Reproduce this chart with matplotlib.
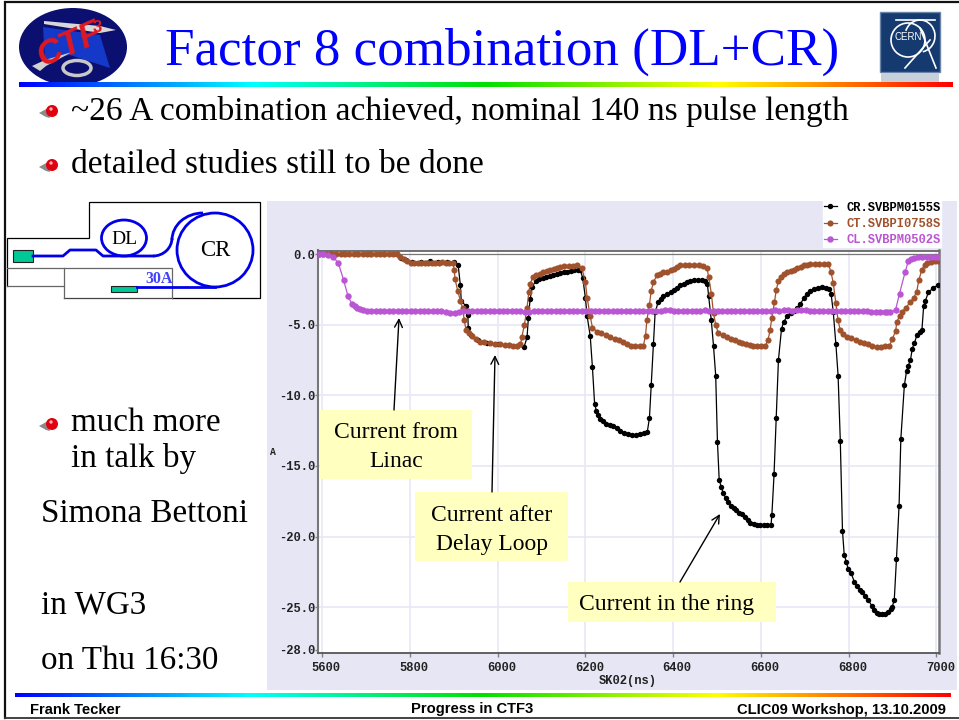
import matplotlib
matplotlib.use("Agg")
import matplotlib.pyplot as plt
import numpy as np
from matplotlib.colors import LinearSegmentedColormap
from matplotlib.patches import Arc, Circle, Ellipse, Polygon, Rectangle
from matplotlib.transforms import ScaledTranslation

W, H = 959, 720

black_x = [5592, 5620, 5650, 5680, 5710, 5740, 5770, 5780, 5790, 5805, 5825, 5845, 5865, 5885, 5900, 5910,
           5915, 5917, 5928, 5932, 5933, 5940, 5955, 5975, 6000, 6025, 6045, 6060,
           6067, 6070, 6074, 6079, 6087, 6095, 6103, 6111, 6119, 6127, 6135, 6143, 6151, 6159, 6167, 6175, 6183, 6188,
           6194, 6200, 6204, 6211, 6216, 6221, 6225, 6229, 6234, 6240, 6247, 6255, 6264, 6272, 6280, 6288, 6297,
           6306, 6315, 6324, 6333, 6341, 6346, 6350, 6355, 6359, 6366, 6372, 6378, 6386, 6394, 6402, 6409, 6416,
           6424, 6431, 6439, 6447, 6456, 6465, 6473, 6478, 6481, 6487, 6492, 6497, 6501, 6505, 6510, 6514, 6520,
           6526, 6532, 6538, 6544, 6550, 6557, 6563, 6570, 6576, 6584, 6592, 6599, 6607, 6615, 6623, 6625, 6630,
           6635, 6640, 6647, 6652, 6660, 6668, 6675, 6683, 6690, 6698, 6705, 6713, 6722, 6731, 6740, 6748, 6756,
           6760, 6765, 6771, 6776, 6781, 6786, 6790, 6795, 6799, 6806, 6813, 6819, 6825, 6830, 6838, 6845, 6853,
           6858, 6864, 6870, 6876, 6883, 6890, 6896, 6899, 6904, 6909, 6915, 6919, 6927, 6932, 6936, 6941, 6945,
           6950, 6956, 6962, 6967, 6971, 6975, 6982, 6993, 7003]
black_y = [0, 0, 0, 0, 0, 0, -0.02, -0.25, -0.45, -0.55, -0.55, -0.5, -0.55, -0.55, -0.55, -0.8,
           -2.2, -3.3, -3.7, -4.3, -5.2, -5.7, -6.1, -6.3, -6.4, -6.45, -6.5, -6.6,
           -5.9, -4.5, -3.2, -2.3, -1.9, -1.8, -1.7, -1.65, -1.55, -1.5, -1.4, -1.35, -1.3, -1.25, -1.2, -1.15, -1.1, -1.1,
           -1.7, -3.1, -4.4, -5.8, -8.0, -10.6, -11.1, -11.4, -11.7, -11.85, -12.0, -12.1, -12.2, -12.3, -12.5, -12.65, -12.75,
           -12.8, -12.8, -12.75, -12.7, -12.6, -11.6, -9.3, -6.4, -4.1, -3.4, -3.2, -2.95, -2.85, -2.7, -2.55, -2.4, -2.2,
           -2.1, -2.0, -1.9, -1.85, -1.85, -1.85, -1.9, -2.1, -3.0, -4.7, -6.5, -8.6, -13.3, -16.0, -16.5, -16.9, -17.3,
           -17.55, -17.8, -18.0, -18.15, -18.3, -18.4, -18.6, -18.8, -19.0, -19.1, -19.15, -19.2, -19.15, -19.2, -19.2, -18.5, -15.6,
           -11.6, -7.5, -5.3, -4.8, -4.4, -4.2, -4.0, -3.8, -3.55, -3.1, -2.8, -2.6, -2.5, -2.4, -2.35, -2.4, -2.5,
           -2.8, -4.1, -6.4, -8.6, -13.2, -19.6, -21.3, -21.8, -22.3, -22.6, -23.2, -23.5, -23.75, -23.9, -24.2, -24.5, -24.9,
           -25.2, -25.4, -25.45, -25.5, -25.5, -25.35, -25.15, -25.0, -24.5, -21.6, -17.8, -13.1, -9.3, -8.3, -7.9, -7.5, -6.7,
           -6.3, -5.7, -5.5, -5.4, -3.7, -3.3, -2.7, -2.4, -2.2]

brown_x = [5592, 5602, 5612, 5622, 5632, 5642, 5652, 5662, 5672, 5682, 5692, 5702, 5712, 5722, 5732, 5742, 5752, 5762,
           5770, 5778, 5786, 5794, 5802, 5810, 5818, 5826, 5834, 5842, 5850, 5858, 5866, 5874, 5882, 5890, 5898,
           5901, 5903, 5909, 5915, 5920, 5924, 5928, 5934, 5941, 5950, 5960, 5970, 5982,
           5994, 6006, 6016, 6026, 6036, 6045, 6052, 6055, 6061, 6067, 6071, 6074, 6081, 6088, 6096, 6104, 6112, 6120,
           6128, 6136, 6143, 6152, 6162, 6172, 6181, 6192, 6200, 6204, 6211, 6216, 6227, 6236, 6246, 6257, 6267, 6276,
           6285, 6295, 6303, 6314, 6324, 6332, 6337, 6340, 6346, 6350, 6355, 6363, 6370, 6378, 6386, 6394, 6402, 6409,
           6416, 6426, 6436, 6448, 6458, 6468, 6477, 6481, 6487, 6492, 6497, 6503, 6513, 6523, 6532, 6541, 6549, 6558,
           6567, 6575, 6583, 6592, 6601, 6610, 6616, 6621, 6625, 6631, 6635, 6640, 6646, 6652, 6660, 6668, 6676, 6683,
           6691, 6699, 6706, 6713, 6723, 6733, 6743, 6754, 6760, 6765, 6771, 6776, 6781, 6788, 6796, 6806, 6816, 6827,
           6836, 6845, 6854, 6864, 6874, 6884, 6893, 6900, 6907, 6910, 6916, 6922, 6930, 6941, 6948, 6955, 6960, 6967,
           6973, 6979, 6988, 6996, 7003]
brown_y = [0, 0, 0, 0, 0, 0, 0, 0, 0, 0, 0, 0, 0, 0, 0, 0, 0, 0,
           -0.02, -0.2, -0.35, -0.5, -0.6, -0.65, -0.65, -0.62, -0.6, -0.6, -0.6, -0.6, -0.6, -0.58, -0.6, -0.6, -0.62,
           -1.1, -1.8, -2.6, -3.3, -3.8, -4.7, -5.4, -5.6, -5.8, -6.0, -6.2, -6.25, -6.3,
           -6.35, -6.4, -6.45, -6.45, -6.5, -6.5, -6.4, -5.9, -5.0, -3.8, -2.7, -2.1, -1.6, -1.5, -1.4, -1.3, -1.2, -1.15,
           -1.05, -1.0, -0.9, -0.88, -0.85, -0.82, -0.8, -1.0, -2.0, -3.1, -4.4, -5.2, -5.5, -5.6, -5.75, -5.9, -6.0, -6.1,
           -6.25, -6.4, -6.5, -6.5, -6.5, -6.5, -5.8, -4.7, -3.6, -2.6, -2.0, -1.5, -1.4, -1.3, -1.25, -1.15, -1.05, -0.95,
           -0.8, -0.78, -0.75, -0.75, -0.8, -0.85, -1.0, -1.6, -2.8, -4.2, -5.0, -5.6, -5.75, -5.9, -6.0, -6.1, -6.2, -6.3,
           -6.4, -6.45, -6.5, -6.5, -6.5, -6.5, -6.1, -5.4, -4.5, -3.4, -2.55, -1.9, -1.6, -1.4, -1.3, -1.2, -1.1, -1.0,
           -0.9, -0.8, -0.75, -0.7, -0.7, -0.68, -0.68, -0.7, -1.3, -2.05, -3.5, -4.7, -5.4, -5.65, -5.85, -5.95, -6.05, -6.2,
           -6.3, -6.4, -6.5, -6.55, -6.55, -6.5, -6.5, -6.0, -5.45, -4.8, -4.4, -4.1, -3.8, -3.4, -3.1, -2.7, -1.85, -1.1,
           -0.8, -0.65, -0.55, -0.5, -0.5]

purple_x = [5592, 5603, 5614, 5625, 5637, 5649, 5659, 5668, 5674, 5679, 5686, 5694, 5702,
            5712, 5722, 5732, 5742, 5752, 5762, 5772, 5782, 5792, 5802, 5812, 5822, 5832, 5842, 5852, 5862, 5872, 5882,
            5892, 5902, 5912, 5922, 5932, 5942, 5952, 5962, 5972, 5982, 5992, 6002, 6012, 6022, 6032, 6042, 6052, 6062,
            6072, 6082, 6092, 6102, 6112, 6122, 6132, 6142, 6152, 6162, 6172, 6182, 6192, 6202, 6212, 6222, 6232, 6242,
            6252, 6262, 6272, 6282, 6292, 6302, 6312, 6322, 6332, 6342, 6352, 6362, 6372, 6382, 6392, 6402, 6412, 6422,
            6432, 6442, 6452, 6462, 6472, 6482, 6492, 6502, 6512, 6522, 6532, 6542, 6552, 6562, 6572, 6582, 6592, 6602,
            6612, 6622, 6632, 6642, 6652, 6662, 6672, 6682, 6692, 6702, 6712, 6722, 6732, 6742, 6752, 6762, 6772, 6782,
            6792, 6802, 6812, 6822, 6832, 6842, 6852, 6862, 6872, 6882, 6888, 6895, 6907, 6916, 6929, 6936, 6942, 6948,
            6958, 6968, 6978, 6988, 6996, 7003]
purple_y = [0, -0.02, -0.05, -0.2, -0.65, -1.85, -3.0, -3.55, -3.7, -3.8, -3.9, -3.95, -4.0,
            -4.0, -4.0, -4.02, -4.03, -4.03, -4.03, -4.03, -4.03, -4.03, -4.03, -4.03, -4.03, -4.03, -4.03, -4.03, -4.02, -4.05, -4.1,
            -4.2, -4.18, -4.1, -4.03, -4.0, -4.0, -4.0, -4.0, -4.0, -4.0, -4.0, -4.0, -4.0, -4.0, -4.02, -4.02, -4.02, -4.08,
            -4.08, -4.03, -4.0, -4.0, -4.0, -4.0, -4.02, -4.02, -4.02, -4.0, -4.0, -4.02, -4.02, -4.02, -4.03, -4.03, -4.0, -4.0,
            -4.0, -4.0, -4.0, -4.0, -4.0, -4.0, -4.02, -4.02, -4.02, -4.02, -4.0, -4.02, -4.02, -3.98, -3.98, -4.02, -4.0, -4.0,
            -4.0, -4.02, -4.03, -4.0, -3.98, -4.0, -4.02, -4.0, -4.0, -4.0, -4.02, -4.0, -4.0, -4.02, -4.0, -4.0, -4.02, -4.02,
            -4.02, -4.0, -3.98, -4.02, -3.98, -3.98, -4.0, -3.98, -3.98, -3.98, -4.0, -4.0, -4.0, -4.0, -4.0, -4.0, -4.0, -4.0,
            -4.0, -4.0, -4.0, -4.0, -4.0, -4.05, -4.08, -4.08, -4.08, -4.1, -4.1, -4.1, -3.95, -2.8, -1.25, -0.5, -0.35, -0.25,
            -0.2, -0.2, -0.2, -0.2, -0.2, -0.2]

x_ticks = [5600, 5800, 6000, 6200, 6400, 6600, 6800, 7000]
y_ticks = [0.0, -5.0, -10.0, -15.0, -20.0, -25.0, -28.0]
grid_y = [-5.0, -10.0, -15.0, -20.0, -25.0]
series_names = ["CR.SVBPM0155S", "CT.SVBPI0758S", "CL.SVBPM0502S"]
series_colors = ["#000000", "#a0522d", "#ba55d3"]

MONO = "Liberation Mono"
SERIF = "Liberation Serif"
SANS = "Liberation Sans"
LAVENDER = "#e6e6f5"

fig = plt.figure(figsize=(W / 100, H / 100), dpi=100, facecolor="white")


def px_axes(left, top, right, bottom):
    return fig.add_axes([left / W, 1 - bottom / H, (right - left) / W, (bottom - top) / H])


# slide layer, in pixel coordinates
bg = fig.add_axes([0, 0, 1, 1])
bg.set_xlim(0, W)
bg.set_ylim(H, 0)
bg.axis("off")
bg.add_patch(Rectangle((267, 201), 690, 489, fc=LAVENDER, ec="none"))

# the scope trace
ax = px_axes(318, 250.5, 939, 652.5)
ax.set_xlim(5590.5, 7006)
ax.set_ylim(-28.2, 0.25)
ax.set_facecolor("white")
ax.set_xticks(x_ticks)
ax.set_xticklabels([str(v) for v in x_ticks], family=MONO, weight="bold", fontsize=8.7, color="#222222")
ax.set_yticks(y_ticks)
ax.set_yticklabels([f"{v:.1f}" for v in y_ticks], family=MONO, weight="bold", fontsize=8.7, color="#222222")
ax.tick_params(axis="x", length=3, width=1, color="#808080", pad=3.5)
ax.tick_params(axis="y", length=2, width=1, color="#808080", pad=0)
# the scope draws its x labels a little right of the tick
nudge = ScaledTranslation(4 / 100, 0, fig.dpi_scale_trans)
for lab in ax.get_xticklabels():
    lab.set_transform(lab.get_transform() + nudge)
for v in x_ticks:
    ax.axvline(v, color=LAVENDER, lw=1.1, zorder=1)
for v in grid_y:
    ax.axhline(v, color=LAVENDER, lw=1.1, zorder=1)
ax.axhline(0, color="#777777", lw=0.9, zorder=1)
for side, lw, col in [("left", 1.5, "#777777"), ("bottom", 1.3, "#555555"), ("top", 1.3, "#666666"), ("right", 1.8, "#777777")]:
    ax.spines[side].set_linewidth(lw)
    ax.spines[side].set_color(col)

ax.plot(black_x, black_y, color=series_colors[0], lw=0.9, marker="o", ms=3.9, mew=0, label=series_names[0], zorder=3)
ax.plot(brown_x, brown_y, color=series_colors[1], lw=0.9, marker="o", ms=4.4, mew=0, label=series_names[1], zorder=4)
ax.plot(purple_x, purple_y, color=series_colors[2], lw=0.9, marker="o", ms=4.6, mew=0, label=series_names[2], zorder=5)

leg = ax.legend(loc="upper right", bbox_to_anchor=(1.003, 1.123), borderaxespad=0, frameon=True, fancybox=False,
                framealpha=1, edgecolor="white", facecolor="white", labelcolor="linecolor", handlelength=1.1,
                handletextpad=0.75, labelspacing=0.36, borderpad=0.05,
                prop={"family": MONO, "weight": "bold", "size": 8.7})

# everything on top of the trace
top = fig.add_axes([0, 0, 1, 1])
top.set_xlim(0, W)
top.set_ylim(H, 0)
top.axis("off")
top.patch.set_alpha(0)

# slide frame
top.plot([5, 5, 959], [718, 2, 2], color="#111111", lw=1.6, solid_joinstyle="miter")
top.plot([5, 959], [718, 718], color="#333333", lw=1.3)

# rainbow rules
rainbow = LinearSegmentedColormap.from_list(
    "rule", [(0, "#0000ff"), (0.25, "#00ffff"), (0.5, "#00e000"), (0.75, "#ffff00"), (1, "#ff0000")])
grad = np.linspace(0, 1, 256).reshape(1, -1)
top.imshow(grad, cmap=rainbow, extent=(19, 953, 87, 82), aspect="auto", zorder=2)
top.imshow(grad, cmap=rainbow, extent=(15, 951, 697, 693), aspect="auto", zorder=2)
top.set_xlim(0, W)
top.set_ylim(H, 0)

# CTF3 logo
top.add_patch(Ellipse((73, 47), 108, 78, fc="#0a0f70", ec="none", zorder=1))
top.add_patch(Polygon([[43, 27], [100, 35], [110, 68], [70, 55], [45, 60]], fc="#1438c8", ec="none", zorder=1))
top.add_patch(Polygon([[44, 21], [100, 26], [116, 30], [100, 33], [44, 24]], fc="#d8d8d8", ec="none", zorder=1))
top.add_patch(Polygon([[32, 66], [45, 60], [72, 52], [46, 66], [40, 71]], fc="#d0d0d0", ec="none", zorder=1))
top.add_patch(Ellipse((77, 68), 28, 15, fc="none", ec="#c8c8c8", lw=2.5, zorder=1))
top.text(69, 45, "CTF", color="#e01820", family=SANS, weight="bold", style="italic", fontsize=25,
         rotation=24, ha="center", va="center", zorder=3)
top.text(97, 28, "3", color="#e01820", family=SANS, weight="bold", fontsize=12, ha="center", va="center", zorder=3)

# CERN logo
top.add_patch(Rectangle((880, 12), 60, 60, fc="#143a70", ec="#6a84a8", lw=1, zorder=1))
top.add_patch(Rectangle((881, 73), 58, 9, fc="#c8d0dc", ec="none", zorder=1))
top.add_patch(Circle((908, 40), 17, fc="none", ec="white", lw=1.2, zorder=2))
top.add_patch(Arc((920, 36), 30, 32, theta1=200, theta2=80, ec="white", lw=1.2, zorder=2))
top.plot([896, 935], [20, 20], color="white", lw=1.2, zorder=2)
top.plot([920, 936], [28, 68], color="white", lw=1.2, zorder=2)
top.plot([930, 905], [40, 68], color="white", lw=1.2, zorder=2)
top.text(908, 37, "CERN", color="white", family=SANS, fontsize=7, ha="center", va="center", zorder=3)

# slide text
top.text(165, 64.5, "Factor 8 combination (DL+CR)", color="#0000ff", family=SERIF, fontsize=38.25, va="baseline")
body = [(71, 120, 24.1, "~26 A combination achieved, nominal 140 ns pulse length"),
        (71, 173, 24.0, "detailed studies still to be done"),
        (71, 431, 23.9, "much more"),
        (71, 467, 23.9, "in talk by"),
        (41, 522, 23.9, "Simona Bettoni"),
        (41, 614, 23.9, "in WG3"),
        (41, 669, 23.9, "on Thu 16:30")]
for tx, ty, size, s in body:
    top.text(tx, ty, s, color="black", family=SERIF, fontsize=size, va="baseline")

# bullets
for by in [112, 166, 425]:
    top.add_patch(Polygon([[39, by + 1], [48, by - 4], [50, by + 6], [46, by + 5]], fc="#8a8a8a", ec="none"))
    top.add_patch(Circle((52, by - 1), 6, fc="#e00010", ec="none"))
    top.add_patch(Circle((51, by - 3), 1.7, fc="#ffb0b0", ec="none"))

# footer
top.text(30, 714, "Frank Tecker", family=SANS, weight="bold", fontsize=10.6, va="baseline")
top.text(472.5, 713, "Progress in CTF3", family=SANS, weight="bold", fontsize=10.6, ha="center", va="baseline")
top.text(946, 714, "CLIC09 Workshop, 13.10.2009", family=SANS, weight="bold", fontsize=10.6, ha="right", va="baseline")

# axis captions of the scope
top.text(273, 452, "A", family=MONO, weight="bold", fontsize=7, ha="center", va="center", color="#222222")
top.text(628, 681, "SK02(ns)", family=MONO, weight="bold", fontsize=8.7, ha="center", va="center", color="#222222")

# beamline sketch
for pts, col in [([(7, 286), (7, 238), (89, 238), (89, 202), (260, 202), (260, 298), (172, 298)], "black"),
                 ([(64, 298), (172, 298)], "#444444"),
                 ([(7, 268), (172, 268), (172, 298)], "#666666"),
                 ([(7, 286), (64, 286)], "#666666"),
                 ([(64, 268), (64, 298)], "#666666")]:
    top.plot(*zip(*pts), color=col, lw=0.9, solid_joinstyle="miter")
BLUE = "#0000e8"
top.plot([33, 63, 70, 96, 103, 153], [256, 256, 250, 250, 256, 256], color=BLUE, lw=2)
top.add_patch(Arc((153, 238), 38, 36, theta1=0, theta2=90, ec=BLUE, lw=2))
top.add_patch(Arc((203, 240), 62, 54, theta1=180, theta2=270, ec=BLUE, lw=2))
top.add_patch(Ellipse((124, 238), 45, 36, fc="none", ec=BLUE, lw=2))
top.add_patch(Ellipse((215, 250), 76, 74, fc="none", ec=BLUE, lw=2))
top.plot([137, 215], [287, 287], color=BLUE, lw=2)
top.add_patch(Rectangle((13, 250), 20, 12, fc="#00c896", ec="#222222", lw=0.8))
top.add_patch(Rectangle((111, 286), 26, 6, fc="#00c896", ec="#222222", lw=0.8))
top.text(124, 239, "DL", family=SERIF, fontsize=14, ha="center", va="center")
top.text(215, 251, "CR", family=SERIF, fontsize=16.5, ha="center", va="center")
top.text(159, 279, "30A", family=SERIF, weight="bold", color="#4040ff", fontsize=11.5, ha="center", va="center")

# callouts
for (bx, by, bw, bh), s, cx, cy in [((320, 410, 152, 69), "Current from\nLinac", 396, 447),
                                    ((415, 492, 153, 69), "Current after\nDelay Loop", 491.5, 530),
                                    ((568, 582, 208, 40), "Current in the ring", 667, 604.5)]:
    top.add_patch(Rectangle((bx, by), bw, bh, fc="#ffffc0", ec="none", zorder=6))
    top.text(cx, cy, s, family=SERIF, fontsize=17, ha="center", va="center", linespacing=1.45, zorder=7)

for start, end in [((394, 410), (399, 318)), ((492, 492), (495, 355)), ((680, 582), (720, 514))]:
    top.annotate("", xy=end, xytext=start, zorder=7,
                 arrowprops=dict(arrowstyle="->", color="black", lw=1, mutation_scale=14, shrinkA=0, shrinkB=0))

fig.savefig("out.png", dpi=100)
